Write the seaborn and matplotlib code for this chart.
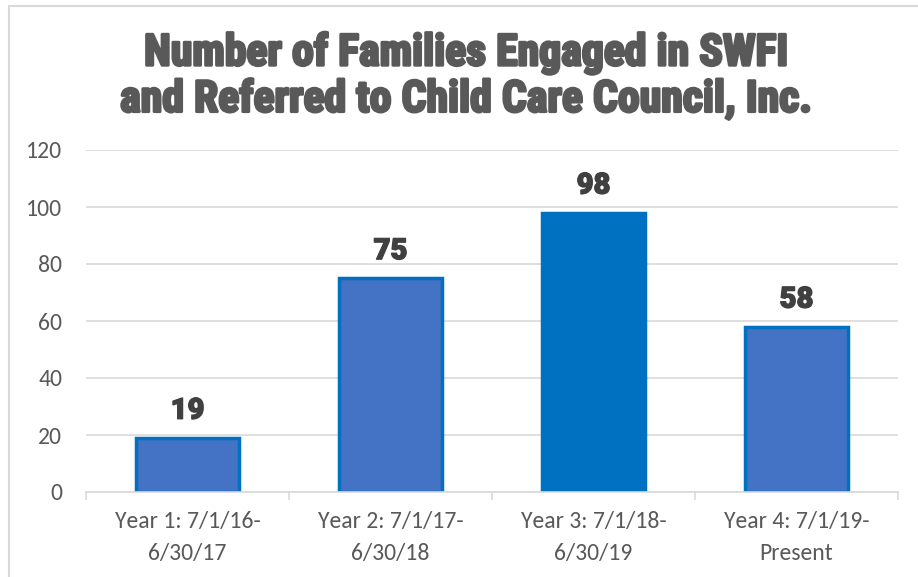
import matplotlib
matplotlib.use("Agg")
import matplotlib.pyplot as plt
import matplotlib.font_manager as fm
import matplotlib.patheffects as pe
import seaborn as sns
import pandas as pd
from matplotlib.patches import Rectangle

categories = ["Year 1: 7/1/16-\n6/30/17", "Year 2: 7/1/17-\n6/30/18",
              "Year 3: 7/1/18-\n6/30/19", "Year 4: 7/1/19-\nPresent"]
values = [19, 75, 98, 58]
title = "Number of Families Engaged in SWFI\nand Referred to Child Care Council, Inc."
yticks = [0, 20, 40, 60, 80, 100, 120]

available = {f.name for f in fm.fontManager.ttflist}
body_font = "Carlito" if "Carlito" in available else "Lato"

sns.set_theme(style="white")
plt.rcParams['font.family'] = [body_font, 'DejaVu Sans']

df = pd.DataFrame({"cat": categories, "val": values})
fills = ["#4472C4", "#4472C4", "#0070C0", "#4472C4"]

fig = plt.figure(figsize=(9.18, 5.77), dpi=100)
ax = fig.add_axes([86/918, 1-492/577, (898-86)/918, (492-150)/577])

sns.barplot(data=df, x="cat", y="val", hue="cat", palette=fills, legend=False,
            width=0.51, ax=ax, saturation=1)
for p in ax.patches:
    p.set_edgecolor("#0070C0")
    p.set_linewidth(2.5)

ax.set_xlim(-0.5, 3.5)
ax.set_ylim(0, 120)
ax.set_yticks(yticks)
ax.set_yticklabels([str(t) for t in yticks])
ax.yaxis.grid(True, color="#D9D9D9", linewidth=1.2)
ax.set_axisbelow(True)
for s in ["top", "right", "left"]:
    ax.spines[s].set_visible(False)
ax.spines["bottom"].set_color("#D9D9D9")
ax.spines["bottom"].set_linewidth(1.2)
ax.set_xlabel("")
ax.set_ylabel("")
ax.tick_params(axis="y", length=0, pad=17, labelsize=17, labelcolor="#595959")
ax.tick_params(axis="x", length=0, pad=14, labelsize=17, labelcolor="#595959")
ax.set_xticks([-0.5, 0.5, 1.5, 2.5, 3.5], minor=True)
ax.tick_params(axis="x", which="minor", length=6, color="#D9D9D9", width=1.2, bottom=True)
for lab in ax.get_xticklabels():
    lab.set_linespacing(1.6)

for i, v in enumerate(values):
    ax.text(i, v + 6.7, str(v), ha="center", va="baseline", fontsize=21,
            fontweight="black", color="#404040", family=["Roboto", "DejaVu Sans"],
            path_effects=[pe.withStroke(linewidth=1.0, foreground="#404040")])

fig.text(0.508, 1-76/577, title, ha="center", va="center", fontsize=31.5,
         fontweight="bold", color="#595959", linespacing=1.12,
         family=["Roboto Condensed", "DejaVu Sans"],
         path_effects=[pe.withStroke(linewidth=2.0, foreground="#595959")])

fig.patches.append(Rectangle((9/918, -0.1), 1.2, 1-6/577+0.1, transform=fig.transFigure,
                             fill=False, edgecolor="#D9D9D9", linewidth=1.5))

fig.savefig("out.png", dpi=100)
